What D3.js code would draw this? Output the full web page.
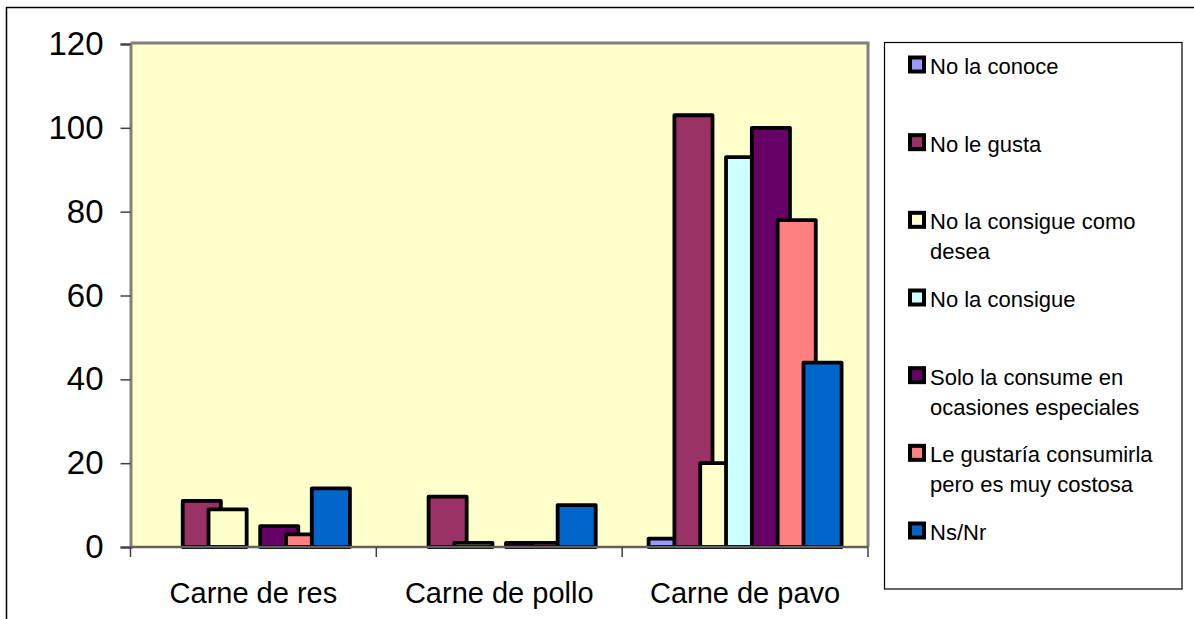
<!DOCTYPE html>
<html>
<head>
<meta charset="utf-8">
<script src="https://cdn.jsdelivr.net/npm/d3@7"></script>
<style>
  html, body { margin: 0; padding: 0; background: #fff; }
  svg { display: block; font-family: "Liberation Sans", Arial, sans-serif; }
</style>
</head>
<body>
<svg id="chart" width="1194" height="619"></svg>
<script>
// Categories along the x axis
const categories = ["Carne de res", "Carne de pollo", "Carne de pavo"];

// Series names (legend order) and their fill colours
const seriesNames = [
  "No la conoce",
  "No le gusta",
  "No la consigue como desea",
  "No la consigue",
  "Solo la consume en ocasiones especiales",
  "Le gustaría consumirla pero es muy costosa",
  "Ns/Nr"
];
const legendLines = [
  ["No la conoce"],
  ["No le gusta"],
  ["No la consigue como", "desea"],
  ["No la consigue"],
  ["Solo la consume en", "ocasiones especiales"],
  ["Le gustaría consumirla", "pero es muy costosa"],
  ["Ns/Nr"]
];
const seriesColors = ["#9999FF", "#993366", "#FFFFCC", "#CCFFFF", "#660066", "#FF8080", "#0066CC"];

// Values per series, one entry per category
const noLaConoce      = [0, 0, 2];
const noLeGusta       = [11, 12, 103];
const noConsigueDesea = [9, 1, 20];
const noLaConsigue    = [0, 0, 93];
const soloOcasiones   = [5, 1, 100];
const muyCostosa      = [3, 1, 78];
const nsNr            = [14, 10, 44];
const seriesValues = [noLaConoce, noLeGusta, noConsigueDesea, noLaConsigue, soloOcasiones, muyCostosa, nsNr];

// Y axis ticks
const yTicks = [0, 20, 40, 60, 80, 100, 120];

const svg = d3.select("#chart");

// Outer chart frame
svg.append("rect")
  .attr("x", 6.5).attr("y", 7.5)
  .attr("width", 1194).attr("height", 619)
  .attr("fill", "none").attr("stroke", "#000").attr("stroke-width", 1.5);

const plot = { left: 130.5, right: 868, top: 43, bottom: 547 };

const x = d3.scaleBand().domain(categories).range([plot.left, plot.right]);
const y = d3.scaleLinear().domain([0, 120]).range([plot.bottom, 44]);

// Plot area background
svg.append("rect")
  .attr("x", plot.left).attr("y", plot.top)
  .attr("width", plot.right - plot.left).attr("height", plot.bottom - plot.top)
  .attr("fill", "#FFFFCC");

// Bars: within each category, series are offset by a fixed step and overlap
const bw = x.bandwidth();
const step = bw * 0.105;
const barW = bw * 0.155;
const offset = d3.scaleLinear().domain([0, seriesNames.length - 1])
  .range([-step * 3, step * 3]);

seriesValues.forEach((vals, si) => {
  svg.append("g")
    .selectAll("rect")
    .data(vals.map((v, ci) => ({ v, c: categories[ci] })).filter(d => d.v > 0))
    .join("rect")
    .attr("x", d => x(d.c) + bw / 2 + offset(si) - barW / 2)
    .attr("y", d => y(d.v))
    .attr("width", barW)
    .attr("height", d => y(0) - y(d.v))
    .attr("fill", seriesColors[si])
    .attr("stroke", "#000")
    .attr("stroke-width", 3.8)
    .attr("stroke-linejoin", "round");
});

// Plot area border (top and right)
svg.append("path")
  .attr("d", `M${plot.left},${plot.top}H${plot.right}V${plot.bottom}`)
  .attr("fill", "none").attr("stroke", "#808080").attr("stroke-width", 3);

// Y axis
const yAxis = svg.append("g")
  .attr("transform", `translate(${plot.left},0)`)
  .call(d3.axisLeft(y).tickValues(yTicks).tickSize(10).tickPadding(17));
yAxis.select(".domain").attr("stroke", "#808080").attr("stroke-width", 3);
yAxis.selectAll(".tick line").attr("stroke", "#404040").attr("stroke-width", 1.5);
yAxis.selectAll(".tick text")
  .attr("font-size", 33).attr("fill", "#000")
  .attr("font-family", "Liberation Sans, Arial, sans-serif");

// X axis: category boundary ticks and centred labels
const xAxis = svg.append("g").attr("transform", `translate(0,${plot.bottom})`);
xAxis.append("line")
  .attr("x1", plot.left).attr("x2", plot.right)
  .attr("stroke", "#606060").attr("stroke-width", 2.5);
const bounds = categories.map(c => x(c)).concat([plot.right]);
xAxis.selectAll(".bound").data(bounds).join("line")
  .attr("class", "bound")
  .attr("x1", d => d).attr("x2", d => d)
  .attr("y1", 0).attr("y2", 10)
  .attr("stroke", "#404040").attr("stroke-width", 1.5);
xAxis.selectAll(".cat").data(categories).join("text")
  .attr("class", "cat")
  .attr("x", d => x(d) + bw / 2)
  .attr("y", 56)
  .attr("text-anchor", "middle")
  .attr("font-size", 29)
  .attr("fill", "#000")
  .text(d => d);

// Legend
const legend = svg.append("g");
legend.append("rect")
  .attr("x", 884.5).attr("y", 42.5)
  .attr("width", 297.5).attr("height", 546.5)
  .attr("fill", "#fff").attr("stroke", "#000").attr("stroke-width", 1.2);

const legendY = d3.scaleLinear().domain([0, seriesNames.length - 1]).range([74, 540]);
seriesNames.forEach((name, i) => {
  const g = legend.append("g").attr("transform", `translate(0,${legendY(i)})`);
  g.append("rect")
    .attr("x", 910).attr("y", -16.5)
    .attr("width", 14).attr("height", 14)
    .attr("fill", seriesColors[i])
    .attr("stroke", "#000").attr("stroke-width", 4);
  legendLines[i].forEach((line, li) => {
    g.append("text")
      .attr("x", 930)
      .attr("y", li * 30)
      .attr("font-size", 22)
      .attr("fill", "#000")
      .text(line);
  });
});
</script>
</body>
</html>
